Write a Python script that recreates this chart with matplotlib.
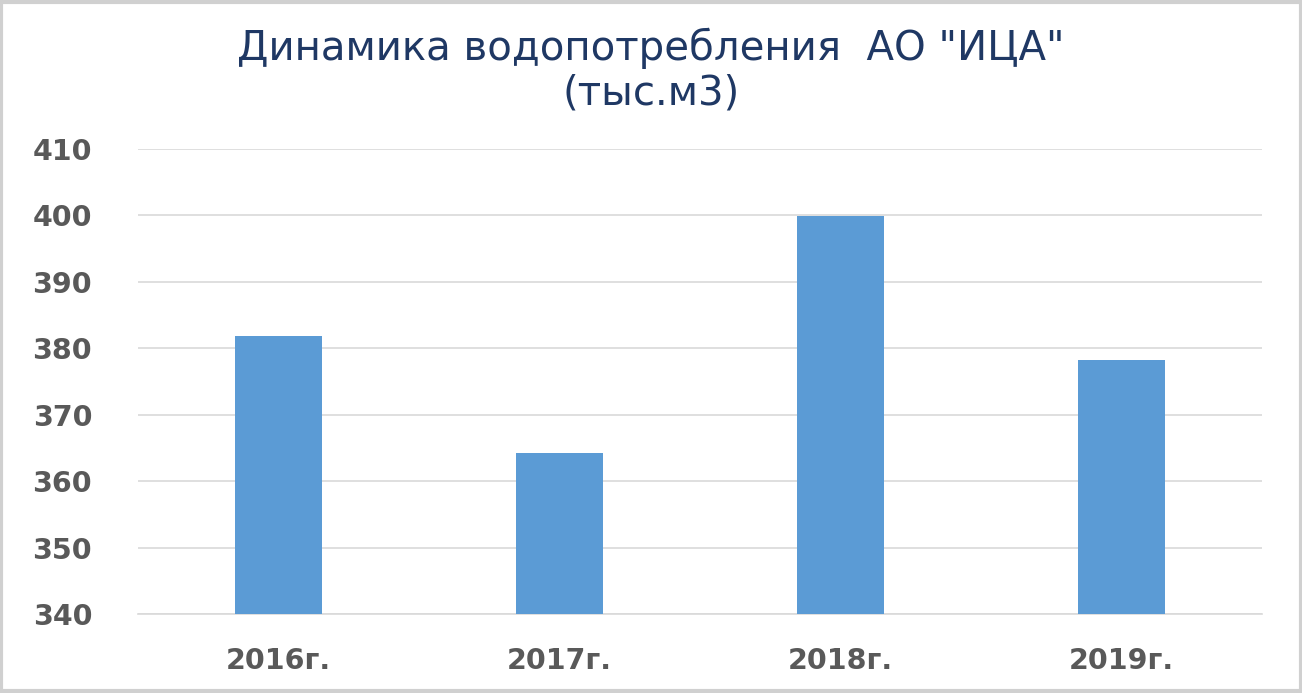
import matplotlib.pyplot as plt
from matplotlib.patches import Rectangle

years = ['2016г.', '2017г.', '2018г.', '2019г.']
volumes = [381.8, 364.2, 399.9, 378.2]
yticks = [340, 350, 360, 370, 380, 390, 400, 410]

bar_color = '#5B9BD5'
text_grey = '#595959'
title_color = '#1F3864'

fig = plt.figure(figsize=(13.02, 6.93), dpi=100)
ax = fig.add_axes([0.106, 0.114, 0.863, 0.671])

x = range(len(years))
ax.bar(x, volumes, width=0.31, bottom=0, color=bar_color, zorder=3)

ax.set_ylim(340, 410)
ax.set_xlim(-0.5, len(years) - 0.5)
ax.set_yticks(yticks)
ax.set_xticks(list(x))
ax.set_xticklabels(years)

ax.grid(axis='y', color='#D9D9D9', linewidth=1.2, zorder=0)
for side in ['top', 'right', 'left']:
    ax.spines[side].set_visible(False)
ax.spines['bottom'].set_color('#D9D9D9')
ax.spines['bottom'].set_linewidth(1.2)
ax.tick_params(length=0)
ax.tick_params(axis='y', pad=33, labelsize=20.5, labelcolor=text_grey)
ax.tick_params(axis='x', pad=24, labelsize=20.5, labelcolor=text_grey)
for lab in ax.get_xticklabels() + ax.get_yticklabels():
    lab.set_fontweight('bold')
    lab.set_family('DejaVu Sans')

# title in two lines
fig.text(0.5, 1 - 48 / 693, 'Динамика водопотребления  АО "ИЦА"',
         ha='center', va='center', fontsize=29, color=title_color)
fig.text(0.5, 1 - 93 / 693, '(тыс.м3)',
         ha='center', va='center', fontsize=29, color=title_color)

# frame around the whole picture
fig.patches.append(Rectangle((0.001, 0.003), 0.998, 0.994, transform=fig.transFigure,
                             fill=False, edgecolor='#D0D0D0', linewidth=3))

fig.savefig('out.png', dpi=100, facecolor='white')
